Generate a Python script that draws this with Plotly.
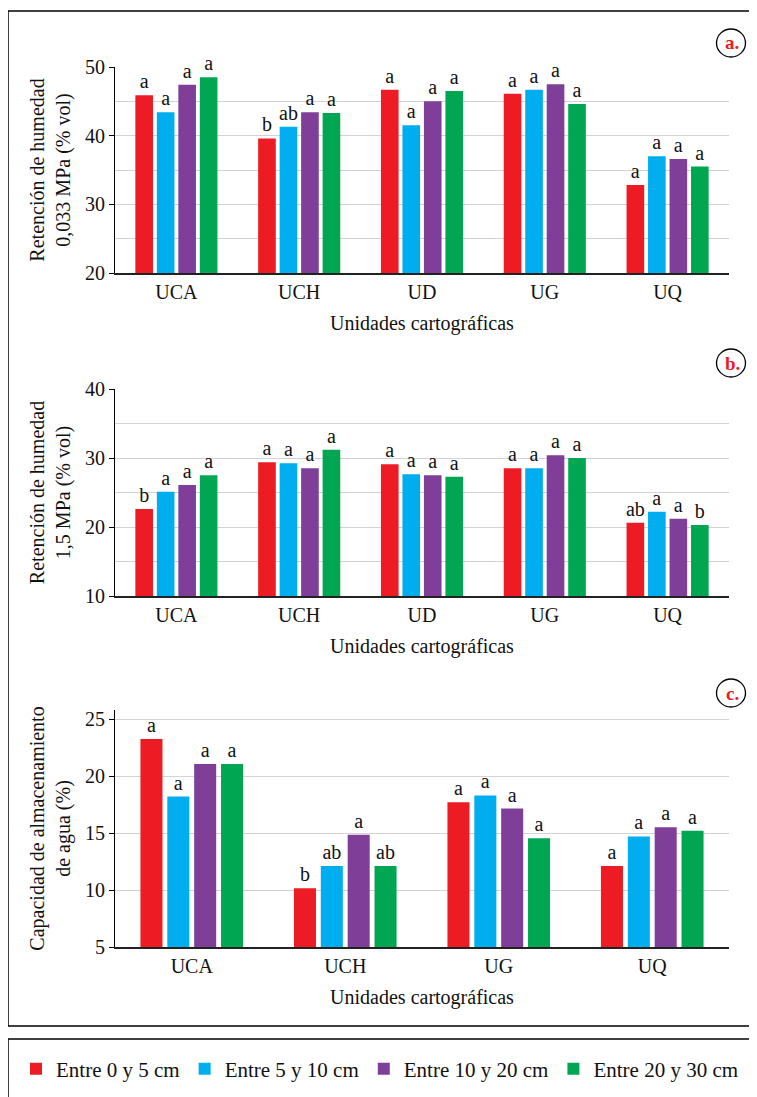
import plotly.graph_objects as go

# ---------------- data ----------------
categories_ab = ["UCA", "UCH", "UD", "UG", "UQ"]
categories_c = ["UCA", "UCH", "UG", "UQ"]
series_names = ["Entre 0 y 5 cm", "Entre 5 y 10 cm", "Entre 10 y 20 cm", "Entre 20 y 30 cm"]
series_colors = ["#ED1C24", "#00AEEF", "#7F3F98", "#00A651"]

# a. Retención de humedad 0,033 MPa (% vol)
ret033_0_5 = [45.9, 39.6, 46.7, 46.1, 32.8]
ret033_5_10 = [43.4, 41.3, 41.5, 46.7, 37.0]
ret033_10_20 = [47.4, 43.4, 45.0, 47.5, 36.6]
ret033_20_30 = [48.5, 43.3, 46.5, 44.6, 35.5]
let033_0_5 = ["a", "b", "a", "a", "a"]
let033_5_10 = ["a", "ab", "a", "a", "a"]
let033_10_20 = ["a", "a", "a", "a", "a"]
let033_20_30 = ["a", "a", "a", "a", "a"]

# b. Retención de humedad 1,5 MPa (% vol)
ret15_0_5 = [22.6, 29.4, 29.1, 28.5, 20.6]
ret15_5_10 = [25.1, 29.25, 27.65, 28.5, 22.2]
ret15_10_20 = [26.1, 28.5, 27.5, 30.4, 21.2]
ret15_20_30 = [27.5, 31.2, 27.3, 30.0, 20.3]
let15_0_5 = ["b", "a", "a", "a", "ab"]
let15_5_10 = ["a", "a", "a", "a", "a"]
let15_10_20 = ["a", "a", "a", "a", "a"]
let15_20_30 = ["a", "a", "a", "a", "b"]

# c. Capacidad de almacenamiento de agua (%)
cap_0_5 = [23.25, 10.15, 17.7, 12.1]
cap_5_10 = [18.2, 12.1, 18.3, 14.7]
cap_10_20 = [21.05, 14.85, 17.15, 15.5]
cap_20_30 = [21.05, 12.1, 14.55, 15.2]
letc_0_5 = ["a", "b", "a", "a"]
letc_5_10 = ["a", "ab", "a", "a"]
letc_10_20 = ["a", "a", "a", "a"]
letc_20_30 = ["a", "ab", "a", "a"]

panels = [
    dict(cats=categories_ab, vals=[ret033_0_5, ret033_5_10, ret033_10_20, ret033_20_30],
         lets=[let033_0_5, let033_5_10, let033_10_20, let033_20_30]),
    dict(cats=categories_ab, vals=[ret15_0_5, ret15_5_10, ret15_10_20, ret15_20_30],
         lets=[let15_0_5, let15_5_10, let15_10_20, let15_20_30]),
    dict(cats=categories_c, vals=[cap_0_5, cap_5_10, cap_10_20, cap_20_30],
         lets=[letc_0_5, letc_5_10, letc_10_20, letc_20_30]),
]

# ---------------- layout helpers ----------------
# The page body has an 8px margin, so the figure origin sits at (8, 8) of the window.
OFF = 8
W, H = 757 - OFF, 1097 - OFF
FONT = "Liberation Serif, Times New Roman, serif"
TXT = "#111111"


def fx(px):
    """window x pixel -> paper fraction"""
    return (px - OFF) / W


def fy(py):
    """window y pixel -> paper fraction"""
    return 1 - (py - OFF) / H


fig = go.Figure()

for p_i, p in enumerate(panels):
    suffix = "" if p_i == 0 else str(p_i + 1)
    for s_i in range(4):
        fig.add_trace(go.Bar(
            x=p["cats"], y=p["vals"][s_i], name=series_names[s_i],
            marker=dict(color=series_colors[s_i], line=dict(width=0)),
            text=p["lets"][s_i], textposition="outside", cliponaxis=False,
            constraintext="none",
            textfont=dict(family=FONT, size=20, color=TXT),
            legendgroup=series_names[s_i], showlegend=(p_i == 0),
            xaxis="x" + suffix, yaxis="y" + suffix,
            hoverinfo="x+y+name",
        ))

# y domains in window pixels (top, bottom)
ydoms = [(67, 273), (389, 596), (710, 947)]
yranges = [[20, 50], [10, 40], [5, 25.8]]
ydticks = [10, 10, 5]
ytitles = ["Retención de humedad<br>0,033 MPa (% vol)",
           "Retención de humedad<br>1,5 MPa (% vol)",
           "Capacidad de almacenamiento<br>de agua (%)"]

layout_axes = {}
for i in range(3):
    suffix = "" if i == 0 else str(i + 1)
    top, bot = ydoms[i]
    layout_axes["xaxis" + suffix] = dict(
        domain=[fx(115), fx(729)], anchor="y" + suffix, type="category",
        showline=True, linecolor="#222222", linewidth=1.8,
        ticks="", showgrid=False, automargin=False,
        tickfont=dict(family=FONT, size=20, color=TXT),
        title=dict(text="Unidades cartográficas", font=dict(family=FONT, size=20, color=TXT), standoff=14),
    )
    layout_axes["yaxis" + suffix] = dict(
        domain=[fy(bot), fy(top)], anchor="x" + suffix,
        range=yranges[i], dtick=ydticks[i], tick0=0,
        ticks="outside", ticklen=5, tickcolor="#000000",
        showline=True, linecolor="#000000", linewidth=1.2,
        showgrid=True, gridcolor="#d3d3d3", gridwidth=1.2,
        minor=dict(dtick=5, tick0=0, showgrid=True, gridcolor="#d3d3d3", gridwidth=1.2, ticks=""),
        zeroline=False, automargin=False,
        tickfont=dict(family=FONT, size=20, color=TXT),
        title=dict(text=ytitles[i], font=dict(family=FONT, size=20, color=TXT), standoff=8),
    )

frame_line = dict(color="#000000", width=1.5)
shapes = []
# outer frame: top, left and bottom edges (right edge lies beyond the picture)
for x0, y0, x1, y1 in [(8, 11, 790, 11), (8, 11, 8, 1026), (8, 1026, 790, 1026),
                       # legend frame: top and left edges
                       (8, 1039, 790, 1039), (8, 1039, 8, 1130)]:
    shapes.append(dict(type="line", xref="paper", yref="paper",
                       x0=fx(x0), x1=fx(x1), y0=fy(y0), y1=fy(y1),
                       line=frame_line, layer="below"))

annotations = []
circle_centers = [(731, 43, "a."), (731, 363, "b."), (731, 693, "c.")]
for cx, cy, lab in circle_centers:
    shapes.append(dict(type="circle", xref="paper", yref="paper",
                       x0=fx(cx - 14.5), x1=fx(cx + 14.5),
                       y0=fy(cy + 14), y1=fy(cy - 14),
                       line=dict(color="#000000", width=1.3)))
    annotations.append(dict(text="<b>" + lab + "</b>", xref="paper", yref="paper",
                            x=fx(cx + 1), y=fy(cy), xanchor="center", yanchor="middle",
                            showarrow=False, font=dict(family=FONT, size=19, color="#ED1C24")))

fig.update_layout(
    width=W, height=H, autosize=False,
    margin=dict(l=0, r=0, t=0, b=0, pad=0),
    paper_bgcolor="#ffffff", plot_bgcolor="#ffffff",
    barmode="group", bargap=0.3, bargroupgap=0.18,
    font=dict(family=FONT, size=20, color=TXT),
    showlegend=True,
    legend=dict(orientation="h", x=fx(16), y=fy(1069), xanchor="left", yanchor="middle",
                font=dict(family=FONT, size=21, color=TXT), bgcolor="rgba(0,0,0,0)",
                itemwidth=30, traceorder="normal", tracegroupgap=0),
    shapes=shapes, annotations=annotations,
    **layout_axes,
)

fig.write_html("out.html")
